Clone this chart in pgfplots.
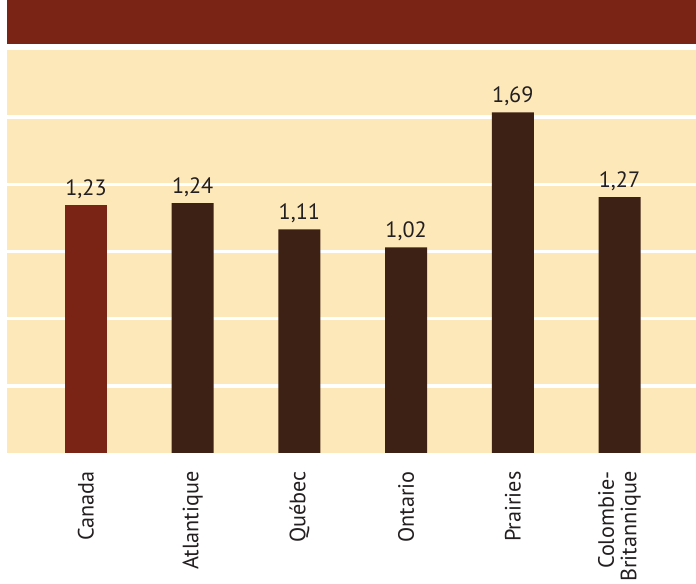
\documentclass[border=0pt]{standalone}
\usepackage{pgfplots}
\pgfplotsset{compat=1.18}
\usepackage{fontspec}
\setmainfont{PT Sans}
\definecolor{band}{HTML}{7A2416}
\definecolor{cream}{HTML}{FDE8B9}
\definecolor{darkbar}{HTML}{3D2114}
\definecolor{canbar}{HTML}{7A2416}
\definecolor{txt}{HTML}{231F20}
\begin{document}
\begin{tikzpicture}[x=1bp,y=1bp]
\path[use as bounding box] (0,0) rectangle (696,584);
\fill[band] (7,540) rectangle (696,584);
\begin{axis}[
  at={(7bp,131bp)}, anchor=south west,
  scale only axis, width=689bp, height=403bp,
  xmin=-0.74, xmax=5.717, ymin=0, ymax=2,
  axis background/.style={fill=cream},
  axis line style={draw=none},
  tick style={draw=none},
  ytick={0.33333,0.66667,1,1.33333,1.66667},
  yticklabels={},
  ymajorgrids,
  major grid style={white, line width=3.5bp},
  xtick={0,1,2,3,4,5},
  xticklabels={Canada,Atlantique,Québec,Ontario,Prairies,{Colombie-\\Britannique}},
  xticklabel style={rotate=90, anchor=east, align=right, font=\fontsize{22.2bp}{22.5bp}\selectfont, text=txt, inner sep=0pt},
  xticklabel shift=14bp,
  ybar, bar width=42bp,
  point meta=explicit symbolic,
  nodes near coords,
  nodes near coords style={anchor=base, yshift=10bp, font=\fontsize{22.2bp}{22.5bp}\selectfont, text=txt, inner sep=0pt},
  clip=false,
]
\addplot[fill=canbar, draw=none, bar shift=0pt] coordinates {(0,1.23) [1,23]};
\addplot[fill=darkbar, draw=none, bar shift=0pt] coordinates {(1,1.24) [1,24] (2,1.11) [1,11] (3,1.02) [1,02] (4,1.69) [1,69] (5,1.27) [1,27]};
\end{axis}
\end{tikzpicture}
\end{document}
